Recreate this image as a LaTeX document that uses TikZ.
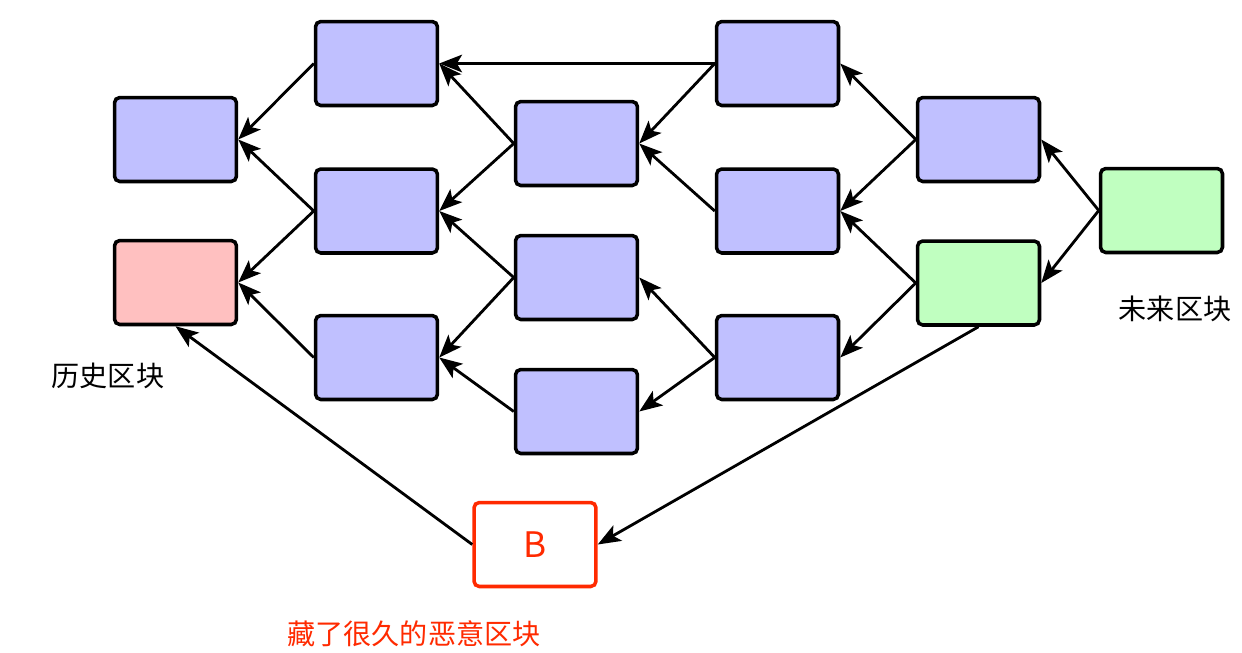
\documentclass[tikz,border=0pt]{standalone}
\usepackage{fontspec}
\setmainfont{Noto Sans CJK SC}
\usepackage{tikz}
\usetikzlibrary{arrows.meta,positioning}

\definecolor{blockblue}{HTML}{C0C0FF}
\definecolor{blockpink}{HTML}{FFC0C0}
\definecolor{blockgreen}{HTML}{C0FFC0}
\definecolor{evilred}{HTML}{FF2A00}

\begin{document}
\begin{tikzpicture}[
    x=0.02cm, y=-0.02cm,
    font=\fontsize{16}{19}\selectfont,
    block_box/.style={draw=black, line width=2pt, rounded corners=3pt, minimum width=2.44cm, minimum height=1.68cm, fill=blockblue},
    old_box/.style={block_box, fill=blockpink},
    new_box/.style={block_box, fill=blockgreen},
    evil_box/.style={block_box, draw=evilred, fill=white, text=evilred, font=\fontsize{20}{24}\selectfont},
    arrow/.style={-{Stealth[length=13pt,width=10pt,inset=3pt]}, line width=1.6pt, color=black}
]
\useasboundingbox (0,0) rectangle (1242,653);

% HISTORY
\node[block_box] (hist_top) at (175.5,139.5) {};
\node[old_box] (hist_old) at (175.5,282.5) {};
\node (hist_lbl) at (108,376) {历史区块};

% MIDDLE CHAIN
\node[block_box] (mid_a1) at (376.5,63.5) {};
\node[block_box] (mid_a2) at (376.5,211) {};
\node[block_box] (mid_a3) at (376.5,357.5) {};

\node[block_box] (mid_b1) at (576.5,143.5) {};
\node[block_box] (mid_b2) at (576.5,277.5) {};
\node[block_box] (mid_b3) at (576.5,411.5) {};

\node[block_box] (mid_c1) at (777.5,63.5) {};
\node[block_box] (mid_c2) at (777.5,211) {};
\node[block_box] (mid_c3) at (777.5,357.5) {};

\node[block_box] (mid_d1) at (978.5,139.5) {};
\node[new_box] (mid_d2) at (978.5,283) {};

% FUTURE
\node[new_box] (future) at (1161.5,210.5) {};
\node (future_lbl) at (1175,309) {未来区块};

% HIDDEN BLOCK
\node[evil_box] (evil) at (535,544.5) {B};
\node[text=evilred] (evil_lbl) at (414,634) {藏了很久的恶意区块};

% ARROWS
\draw[arrow] (mid_a1.west) -- (hist_top.east);
\draw[arrow] (mid_a2.west) -- (hist_top.east);
\draw[arrow] (mid_a2.west) -- (hist_old.east);
\draw[arrow] (mid_a3.west) -- (hist_old.east);

\draw[arrow] (mid_b1.west) -- (mid_a1.east);
\draw[arrow] (mid_b1.west) -- (mid_a2.east);
\draw[arrow] (mid_b2.west) -- (mid_a2.east);
\draw[arrow] (mid_b2.west) -- (mid_a3.east);
\draw[arrow] (mid_b3.west) -- (mid_a3.east);

\draw[arrow] (mid_c1.west) -- (mid_a1.east);
\draw[arrow] (mid_c1.west) -- (mid_b1.east);
\draw[arrow] (mid_c2.west) -- (mid_b1.east);
\draw[arrow] (mid_c3.west) -- (mid_b2.east);
\draw[arrow] (mid_c3.west) -- (mid_b3.east);

\draw[arrow] (mid_d1.west) -- (mid_c1.east);
\draw[arrow] (mid_d1.west) -- (mid_c2.east);
\draw[arrow] (mid_d2.west) -- (mid_c2.east);
\draw[arrow] (mid_d2.west) -- (mid_c3.east);

\draw[arrow] (future.west) -- (mid_d1.east);
\draw[arrow] (future.west) -- (mid_d2.east);

\draw[arrow] (mid_d2.south) -- (evil.east);
\draw[arrow] (evil.west) -- (hist_old.south);

\end{tikzpicture}
\end{document}
